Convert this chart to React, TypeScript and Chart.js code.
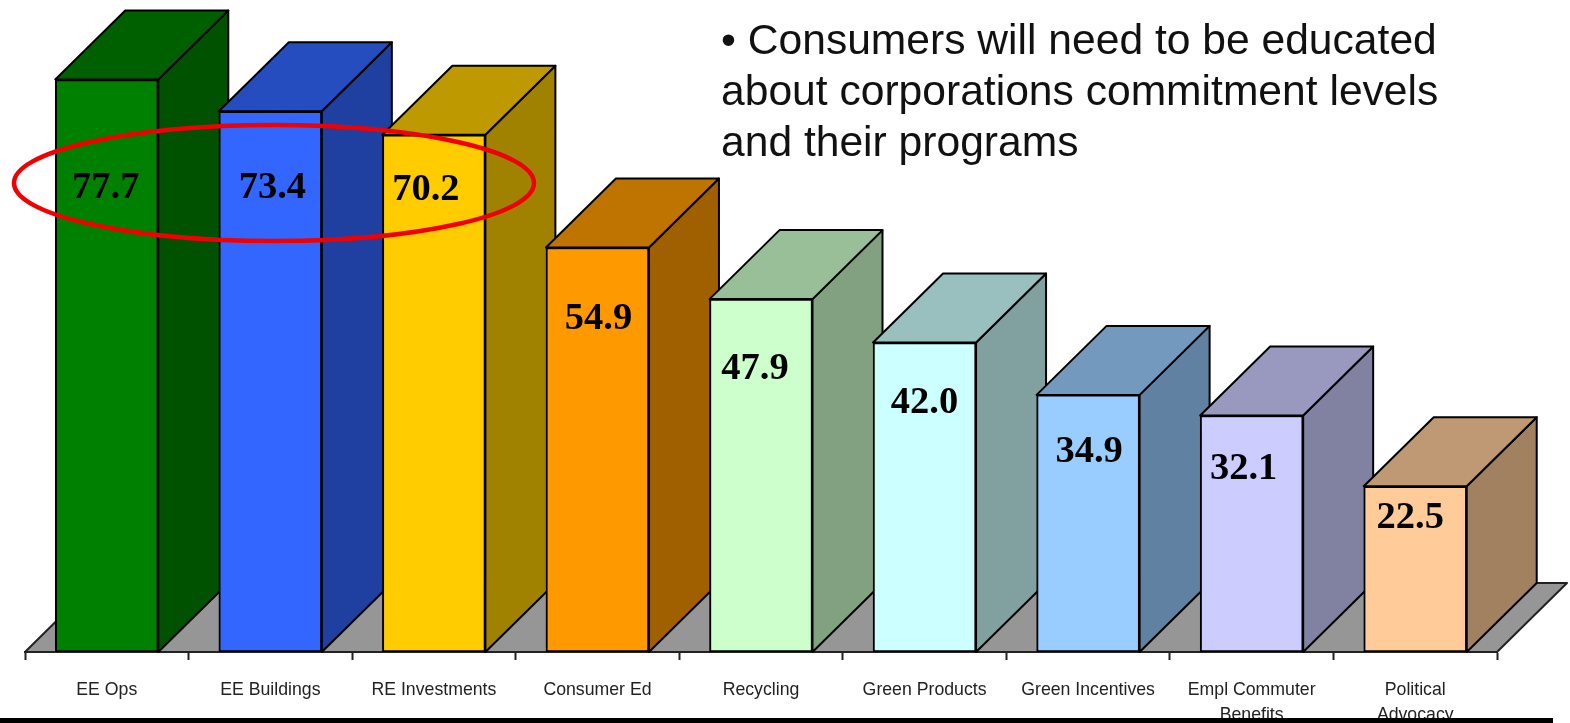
import React, { useEffect, useRef } from "react";
import { Chart, registerables } from "chart.js";

Chart.register(...registerables);

const categories = [
  "EE Ops",
  "EE Buildings",
  "RE Investments",
  "Consumer Ed",
  "Recycling",
  "Green Products",
  "Green Incentives",
  ["Empl Commuter", "Benefits"],
  ["Political", "Advocacy"],
];
const values = [77.7, 73.4, 70.2, 54.9, 47.9, 42.0, 34.9, 32.1, 22.5];
const frontColors = [
  "#008000", "#3366FF", "#FFCC00", "#FF9900", "#CCFFCC",
  "#CCFFFF", "#99CCFF", "#CCCCFF", "#FFCC99",
];
const noteLines = [
  "\u2022 Consumers will need to be educated",
  "about corporations commitment levels",
  "and their programs",
];

// Where each value label sits relative to its bar: across from centre, down from top.
const labelAcross = [-1, 2, -8, 1, -6, 0, 1, -8, -5];
const labelDown = [108, 77, 55, 72, 70, 60, 57, 54, 32];

const DEPTH_X = 70;
const DEPTH_Y = 69;

function shade(hex: string, factor: number) {
  const n = parseInt(hex.slice(1), 16);
  const c = [(n >> 16) & 255, (n >> 8) & 255, n & 255].map((v) => Math.round(v * factor));
  return `rgb(${c[0]},${c[1]},${c[2]})`;
}

function poly(ctx: CanvasRenderingContext2D, pts: number[][], fill: string, stroke = "#000", width = 2) {
  ctx.beginPath();
  pts.forEach(([x, y], i) => (i ? ctx.lineTo(x, y) : ctx.moveTo(x, y)));
  ctx.closePath();
  ctx.fillStyle = fill;
  ctx.fill();
  ctx.lineJoin = "round";
  ctx.lineWidth = width;
  ctx.strokeStyle = stroke;
  ctx.stroke();
}

// Floor plane plus the top and side faces of every column, extruded from the bar elements.
const extrusion = {
  id: "extrusion",
  beforeDatasetsDraw(chart: any) {
    const { ctx, chartArea } = chart;
    const base = chart.scales.y.getPixelForValue(0);
    ctx.save();
    poly(
      ctx,
      [
        [chartArea.left, base],
        [chartArea.left + DEPTH_X, base - DEPTH_Y],
        [chartArea.right + DEPTH_X, base - DEPTH_Y],
        [chartArea.right, base],
      ],
      "#969696",
      "#222",
      2,
    );
    chart.getDatasetMeta(0).data.forEach((bar: any, i: number) => {
      const half = bar.width / 2;
      const l = bar.x - half;
      const r = bar.x + half;
      const t = bar.y;
      poly(ctx, [[r, t], [r + DEPTH_X, t - DEPTH_Y], [r + DEPTH_X, base - DEPTH_Y], [r, base]], shade(frontColors[i], 0.63));
      poly(ctx, [[l, t], [l + DEPTH_X, t - DEPTH_Y], [r + DEPTH_X, t - DEPTH_Y], [r, t]], shade(frontColors[i], 0.75));
    });
    ctx.restore();
  },
};

// Value labels, the red ring around the top three, and the rule along the bottom edge.
const overlays = {
  id: "overlays",
  afterDraw(chart: any) {
    const { ctx, width, height } = chart;
    ctx.save();
    ctx.font = 'bold 38.5px "Liberation Serif"';
    ctx.fillStyle = "#000";
    ctx.textAlign = "center";
    ctx.textBaseline = "middle";
    chart.getDatasetMeta(0).data.forEach((bar: any, i: number) => {
      ctx.fillText(values[i].toFixed(1), bar.x + labelAcross[i], bar.y + labelDown[i]);
    });
    ctx.beginPath();
    ctx.ellipse(274, 183, 260, 58, 0, 0, Math.PI * 2);
    ctx.lineWidth = 4.5;
    ctx.strokeStyle = "#F00000";
    ctx.stroke();
    ctx.fillStyle = "#000";
    ctx.fillRect(0, height - 5, width - 17, 5);
    ctx.restore();
  },
};

export default function App() {
  const ref = useRef<HTMLCanvasElement>(null);

  useEffect(() => {
    if (!ref.current) return;
    const chart = new Chart(ref.current, {
      type: "bar",
      data: {
        labels: categories as any,
        datasets: [
          {
            data: values,
            backgroundColor: frontColors,
            borderColor: "#000",
            borderWidth: 2,
            borderSkipped: false,
            barThickness: 103,
          },
        ],
      },
      options: {
        responsive: false,
        animation: false,
        events: [],
        layout: { padding: { left: 25, right: 73, top: 0, bottom: 0 } },
        plugins: { legend: { display: false }, tooltip: { enabled: false }, title: { display: false } },
        scales: {
          y: { display: false, min: 0, max: 88.5 },
          x: {
            offset: true,
            afterFit(scale: any) {
              scale.height = 71;
            },
            border: { display: true, color: "#222", width: 2 },
            grid: {
              display: true,
              offset: true,
              drawOnChartArea: false,
              drawTicks: true,
              tickLength: 8,
              tickWidth: 2,
              tickColor: "#222",
            },
            ticks: {
              autoSkip: false,
              maxRotation: 0,
              padding: 18,
              color: "#222",
              font: { family: '"Liberation Sans"', size: 17.7, lineHeight: 1.4 },
            },
          },
        },
      },
      plugins: [extrusion, overlays],
    } as any);
    return () => chart.destroy();
  }, []);

  return (
    <div style={{ position: "absolute", left: 0, top: 0, width: 1570, height: 723, overflow: "hidden", background: "#fff" }}>
      <canvas ref={ref} width={1570} height={723} style={{ display: "block" }} />
      <div
        style={{
          position: "absolute",
          left: 721,
          top: 14,
          fontFamily: '"Liberation Sans"',
          fontSize: 42.6,
          lineHeight: "51px",
          color: "#111",
          whiteSpace: "nowrap",
        }}
      >
        {noteLines.map((line) => (
          <div key={line}>{line}</div>
        ))}
      </div>
    </div>
  );
}
